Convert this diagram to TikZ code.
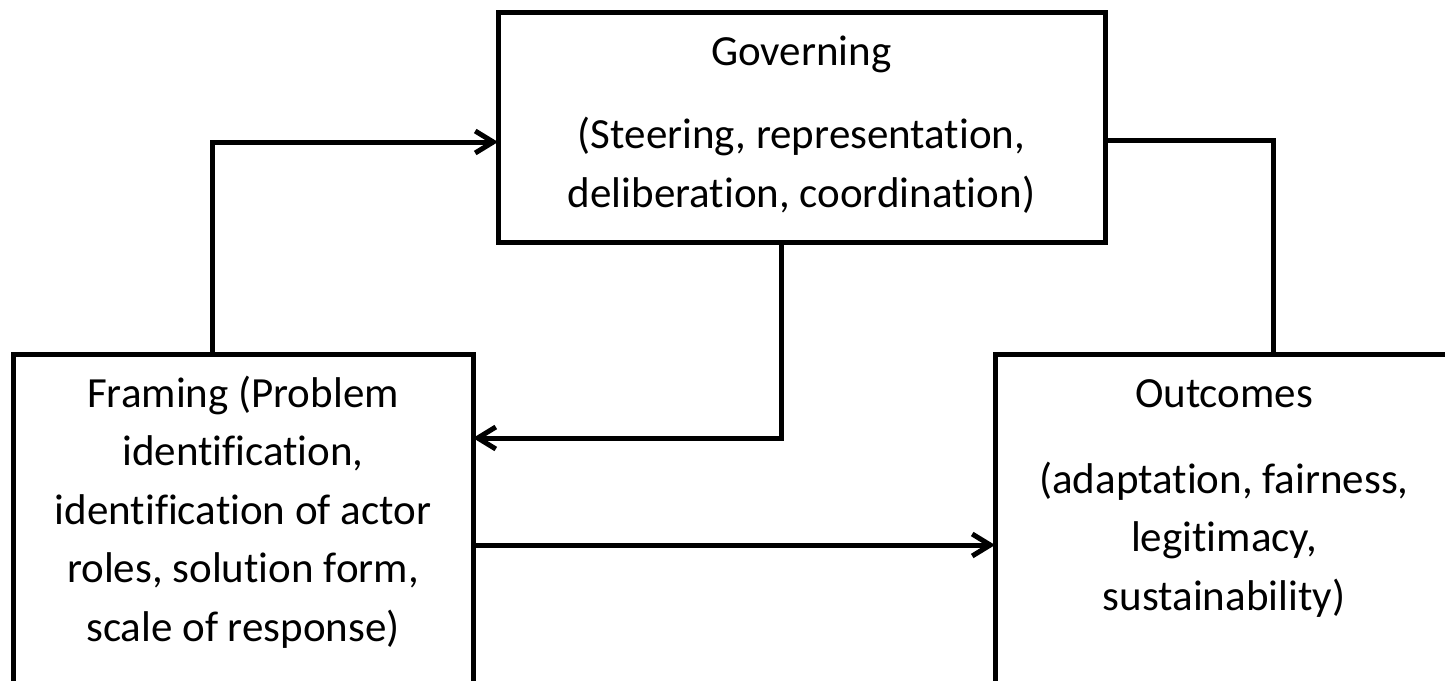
\documentclass[tikz,border=0pt]{standalone}
\usepackage{fontspec}
\setmainfont{Carlito}[Ligatures={NoCommon}]
\usetikzlibrary{arrows.meta}
\begin{document}
\begin{tikzpicture}[x=1pt,y=-1pt,
  box/.style={draw,line width=5pt,line join=miter,inner sep=0pt,outer sep=0pt},
  txt/.style={anchor=base,align=center,inner sep=0pt,font=\fontsize{43}{58.5}\selectfont},
  conn/.style={line width=5pt,line join=miter},
  arr/.style={conn,-{Straight Barb[length=18pt,width=22pt,line width=5pt]}}]
\useasboundingbox (0,0) rectangle (1445,680);
\clip (0,0) rectangle (1445,680);
\fill[white] (0,0) rectangle (1445,680);
\node[box,minimum width=607pt,minimum height=230pt] (gov) at (801.5,127) {};
\node[box,minimum width=460pt,minimum height=366pt] (fram) at (243,537) {};
\node[box,minimum width=458pt,minimum height=366pt] (outc) at (1224,537) {};
% multi-line nodes: base anchor is the baseline of the last line
\node[txt] (govt) at (801.5,65) {Governing};
\node[txt] (govb) at (801.5,207) {(Steering, representation,\\deliberation, coordination)};
\node[txt] (framt) at (243,641) {Framing (Problem\\identification,\\identification of actor\\roles, solution form,\\scale of response)};
\node[txt] (outt) at (1224,407) {Outcomes};
\node[txt] (outb) at (1224,610) {(adaptation, fairness,\\legitimacy,\\sustainability)};
\draw[arr] ([xshift=199pt]fram.north west) |- ([yshift=-15pt]gov.west);
\draw[arr] ([xshift=283pt]gov.south west) |- ([yshift=99pt]fram.east);
\draw[arr] ([yshift=-8pt]fram.east) -- ([yshift=-8pt]outc.west);
\draw[conn] ([yshift=-13pt]gov.east) -| ([xshift=278pt]outc.north west);
\end{tikzpicture}
\end{document}
